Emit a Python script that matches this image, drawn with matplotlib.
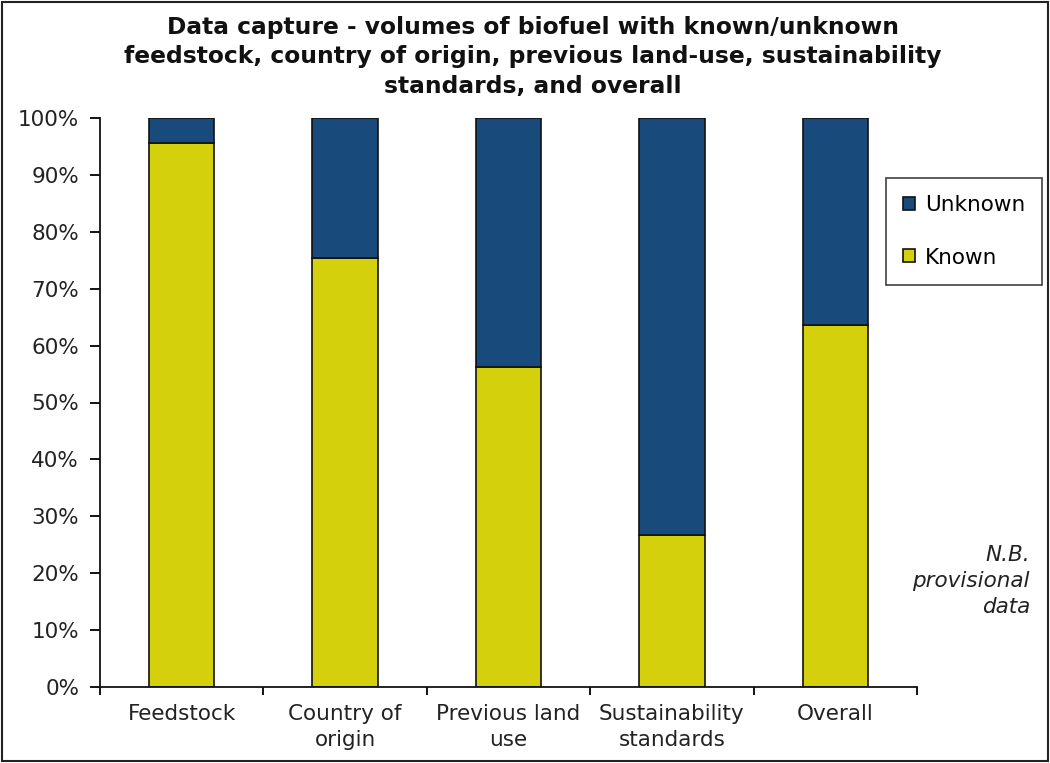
import matplotlib
matplotlib.use("Agg")
import matplotlib.pyplot as plt
import numpy as np
from matplotlib.patches import Rectangle

categories = ["Feedstock", "Country of\norigin", "Previous land\nuse",
              "Sustainability\nstandards", "Overall"]
known = [95.6, 75.4, 56.2, 26.7, 63.6]
unknown = [100 - k for k in known]
y_ticks = [0, 10, 20, 30, 40, 50, 60, 70, 80, 90, 100]

col_known = "#d4d00c"
col_unknown = "#184a7b"

plt.rcParams["font.family"] = ["DejaVu Sans"]

fig = plt.figure(figsize=(10.5, 7.63), dpi=100)
ax = fig.add_axes([100 / 1050, 1 - 687 / 763, 817 / 1050, 569 / 763])

x = np.arange(len(categories))
w = 0.4
ax.bar(x, known, width=w, color=col_known, edgecolor="#111111", linewidth=1.2,
       label="Known", zorder=2)
ax.bar(x, unknown, width=w, bottom=known, color=col_unknown, edgecolor="#111111",
       linewidth=1.2, label="Unknown", zorder=2)

ax.set_xlim(-0.5, len(categories) - 0.5)
ax.set_ylim(0, 100)
ax.set_yticks(y_ticks)
ax.set_yticklabels([f"{t}%" for t in y_ticks], fontsize=15.5, color="#222222")

# category labels centred under bars, ticks on the boundaries between them
ax.set_xticks(np.arange(len(categories) + 1) - 0.5)
ax.set_xticklabels([])
ax.set_xticks(x, minor=True)
ax.set_xticklabels(categories, minor=True, fontsize=15.5, color="#222222",
                   linespacing=1.4, va="top")
ax.tick_params(axis="x", which="minor", length=0, pad=12)
ax.tick_params(axis="x", which="major", length=6, width=1.3, direction="out")
ax.tick_params(axis="y", length=7, width=1.3, direction="out", pad=8)

for s in ["top", "right"]:
    ax.spines[s].set_visible(False)
for s in ["left", "bottom"]:
    ax.spines[s].set_linewidth(1.3)
    ax.spines[s].set_color("#111111")

handles, labels = ax.get_legend_handles_labels()
leg = fig.legend(handles[::-1], labels[::-1], loc="upper left",
                 bbox_to_anchor=(886 / 1050, 1 - 178 / 763), fontsize=15.5,
                 frameon=True, fancybox=False, edgecolor="#111111",
                 handlelength=0.55, handleheight=0.55, handletextpad=0.45,
                 labelspacing=1.5, borderpad=0.8, borderaxespad=0)
leg.get_frame().set_linewidth(1.2)

fig.text(533 / 1050, 1 - 57 / 763,
         "Data capture - volumes of biofuel with known/unknown\n"
         "feedstock, country of origin, previous land-use, sustainability\n"
         "standards, and overall",
         ha="center", va="center", fontsize=16.8, fontweight="bold",
         linespacing=1.35, color="#111111")

fig.text(1030 / 1050, 1 - 581 / 763, "N.B.\nprovisional\ndata", ha="right",
         va="center", fontsize=15.5, style="italic", color="#222222",
         linespacing=1.37)

fig.patches.append(Rectangle((0.002, 0.003), 0.996, 0.994, transform=fig.transFigure,
                             fill=False, edgecolor="#222222", linewidth=1.5))

fig.savefig("out.png", dpi=100)
